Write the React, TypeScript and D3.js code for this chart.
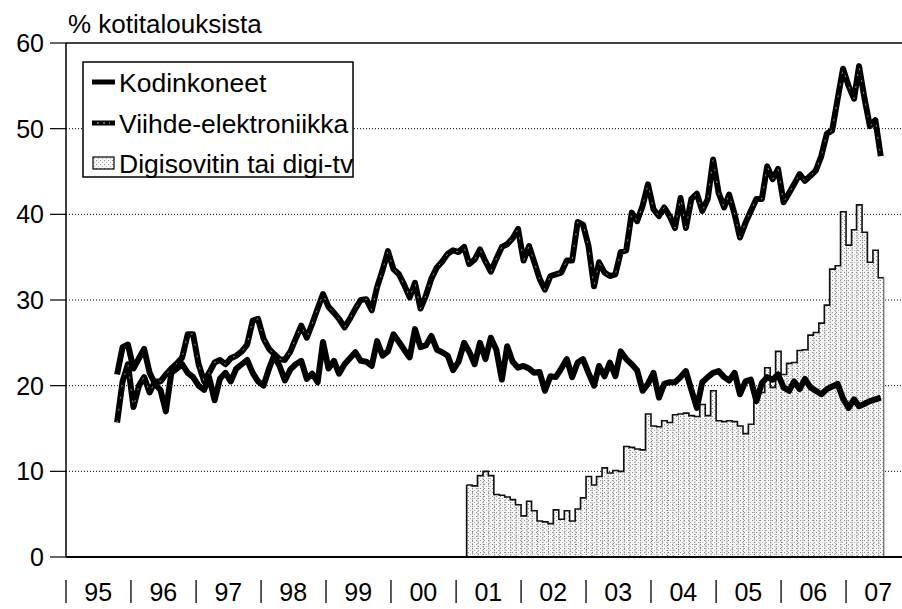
import React, { useEffect, useRef } from 'react';
import * as d3 from 'd3';

// kuukausisarjat alkavat lokakuusta 1995, digisovitin maaliskuusta 2001
const lineStart = new Date(1995, 9, 1);
const digiStart = new Date(2001, 2, 1);

const viihde: number[] = [
  15.7, 20.5, 22.5,
  17.5, 20.0, 21.0, 19.2, 20.5, 20.5, 21.3, 22.0, 22.6, 23.3, 26.0, 26.0,
  22.5, 20.5, 21.5, 22.7, 23.0, 22.5, 23.2, 23.5, 24.0, 24.8, 27.6, 27.8,
  25.5, 24.3, 23.7, 23.1, 23.0, 24.0, 25.5, 27.0, 25.6, 27.2, 29.0, 30.7,
  29.2, 28.5, 27.8, 26.8, 27.8, 29.0, 30.0, 30.1, 28.8, 31.5, 33.5, 35.7,
  33.6, 33.0, 31.8, 30.3, 32.0, 29.0, 30.5, 32.5, 33.8, 34.5, 35.4, 35.8,
  35.6, 36.2, 34.2, 34.7, 35.9, 34.5, 33.3, 34.8, 36.2, 36.5, 37.2, 38.3,
  34.6, 36.3, 34.5, 32.5, 31.2, 32.8, 33.0, 33.2, 34.6, 34.6, 39.1, 38.8,
  36.3, 31.6, 34.4, 33.2, 32.8, 33.0, 35.6, 35.8, 40.2, 39.2, 41.0, 43.5,
  40.6, 39.8, 40.8, 39.8, 38.4, 41.9, 38.4, 41.8, 42.4, 40.4, 41.8, 46.4,
  42.5, 40.8, 42.3, 40.0, 37.3, 39.0, 40.4, 41.8, 41.8, 45.6, 44.1, 45.3,
  41.4, 42.5, 43.5, 44.7, 43.9, 44.5, 45.1, 46.8, 49.4, 49.8, 53.5, 57.0,
  55.0, 53.5, 57.3, 53.5, 50.3, 51.0, 46.8,
];

const kodinkoneet: number[] = [
  21.3, 24.5, 24.8,
  22.0, 23.2, 24.3, 21.5, 20.2, 19.5, 17.0, 21.5, 22.0, 22.5, 21.5, 21.0,
  20.0, 19.5, 21.0, 18.3, 20.8, 21.5, 20.5, 22.0, 22.5, 23.0, 21.5, 20.5,
  20.0, 22.0, 23.5, 22.3, 20.6, 21.9, 22.5, 22.9, 20.8, 21.4, 20.4, 25.1,
  22.0, 22.9, 21.4, 22.5, 23.2, 23.9, 22.9, 22.8, 22.3, 25.2, 23.5, 24.0,
  26.0, 25.1, 24.2, 23.3, 26.6, 24.5, 24.7, 25.8, 24.2, 23.9, 23.5, 21.8,
  22.8, 25.0, 24.0, 22.5, 25.0, 23.1, 25.6, 24.2, 20.7, 24.6, 22.8, 22.1,
  22.3, 22.0, 21.5, 21.6, 19.4, 21.1, 21.0, 22.0, 23.1, 21.0, 22.7, 23.1,
  21.5, 20.0, 22.3, 21.1, 22.7, 21.1, 24.0, 23.1, 22.5, 21.8, 19.4, 20.2,
  21.5, 18.6, 20.2, 20.4, 20.4, 21.0, 21.7, 19.5, 17.4, 20.4, 21.0, 21.5,
  21.7, 21.0, 20.6, 21.5, 19.0, 20.5, 20.7, 18.2, 20.3, 21.0, 20.7, 21.3,
  19.8, 19.4, 20.5, 19.6, 20.8, 19.8, 19.4, 19.0, 19.6, 19.9, 20.2, 18.5,
  17.4, 18.4, 17.6, 17.9, 18.2, 18.4, 18.6,
];

const digi: number[] = [
  8.4, 8.3, 9.5, 10.0, 9.5, 7.3, 7.2, 7.0, 6.7, 6.1,
  4.8, 6.5, 5.4, 4.2, 4.1, 3.9, 5.5, 4.4, 5.4, 4.2, 5.6, 6.9,
  9.4, 8.4, 9.4, 10.4, 9.8, 10.1, 10.0, 12.9, 12.8, 12.6, 12.5, 16.7,
  15.3, 15.2, 15.9, 15.7, 16.6, 16.7, 16.8, 16.5, 16.4, 17.8, 16.5, 19.4,
  15.9, 15.8, 15.9, 15.8, 15.3, 14.4, 15.5, 18.4, 19.2, 22.1, 19.8, 24.0,
  21.3, 22.6, 22.7, 24.1, 24.2, 25.9, 26.2, 27.3, 29.4, 33.6, 34.0, 40.3,
  36.4, 38.2, 41.1, 37.9, 34.4, 35.8, 32.6,
];

const yearLabels = ['95', '96', '97', '98', '99', '00', '01', '02', '03', '04', '05', '06', '07'];
const yTicks = [0, 10, 20, 30, 40, 50, 60];

const legendItems = ['Kodinkoneet', 'Viihde-elektroniikka', 'Digisovitin tai digi-tv'];

const FONT = '"Liberation Sans", Arial, Helvetica, sans-serif';

const App: React.FC = () => {
  const svgRef = useRef<SVGSVGElement | null>(null);

  useEffect(() => {
    const svg = d3.select(svgRef.current);
    svg.selectAll('*').remove();

    const W = 902;
    const H = 609;
    const left = 66;
    const top = 43;
    const bottom = 557;

    const x = d3
      .scaleTime()
      .domain([new Date(1995, 0, 1), new Date(2008, 0, 1)])
      .range([left, left + 65 * 13]);

    const y = d3.scaleLinear().domain([0, 60]).range([bottom, top]);

    const monthAt = (start: Date, i: number) => d3.timeMonth.offset(start, i);
    const mid = (d: Date) => new Date(d.getFullYear(), d.getMonth(), 15);

    const vData = viihde.map((v, i) => ({ date: mid(monthAt(lineStart, i)), v }));
    const kData = kodinkoneet.map((v, i) => ({ date: mid(monthAt(lineStart, i)), v }));
    const dData = digi.map((v, i) => ({ date: monthAt(digiStart, i), v }));

    svg.attr('width', W).attr('height', H).attr('viewBox', `0 0 ${W} ${H}`);
    svg.append('rect').attr('width', W).attr('height', H).attr('fill', '#fff');

    // stipple pattern for digi bars
    const defs = svg.append('defs');
    const pat = defs
      .append('pattern')
      .attr('id', 'stipple')
      .attr('width', 4)
      .attr('height', 4)
      .attr('patternUnits', 'userSpaceOnUse');
    pat.append('rect').attr('width', 4).attr('height', 4).attr('fill', '#f6f6f6');
    pat.append('rect').attr('x', 0).attr('y', 0).attr('width', 1).attr('height', 1).attr('fill', '#8a8a8a');
    pat.append('rect').attr('x', 2).attr('y', 2).attr('width', 1).attr('height', 1).attr('fill', '#b0b0b0');

    // gridlines
    svg
      .append('g')
      .selectAll('line')
      .data(yTicks.filter(t => t > 0 && t < 60))
      .join('line')
      .attr('x1', left)
      .attr('x2', W)
      .attr('y1', d => y(d))
      .attr('y2', d => y(d))
      .attr('stroke', '#000')
      .attr('stroke-width', 1)
      .attr('stroke-dasharray', '1,2');

    // bars
    const bars = svg.append('g');
    bars
      .selectAll('rect')
      .data(dData)
      .join('rect')
      .attr('x', d => x(d.date))
      .attr('width', d => x(d3.timeMonth.offset(d.date, 1)) - x(d.date))
      .attr('y', d => y(d.v))
      .attr('height', d => y(0) - y(d.v))
      .attr('fill', 'url(#stipple)');

    bars
      .selectAll('line')
      .data(dData)
      .join('line')
      .attr('x1', d => x(d.date) + 0.5)
      .attr('x2', d => x(d.date) + 0.5)
      .attr('y1', d => y(d.v))
      .attr('y2', y(0))
      .attr('stroke', '#666')
      .attr('stroke-width', 1)
      .attr('stroke-dasharray', '1,1.5');

    const lastBar = dData[dData.length - 1];
    const stepPts = [...dData, { date: d3.timeMonth.offset(lastBar.date, 1), v: lastBar.v }];
    const stepLine = d3
      .line<{ date: Date; v: number }>()
      .x(d => x(d.date))
      .y(d => y(d.v))
      .curve(d3.curveStepAfter);
    bars
      .append('path')
      .datum(stepPts)
      .attr('fill', 'none')
      .attr('stroke', '#111')
      .attr('stroke-width', 1.6)
      .attr('d', stepLine);
    bars
      .append('line')
      .attr('x1', x(dData[0].date))
      .attr('x2', x(dData[0].date))
      .attr('y1', y(dData[0].v))
      .attr('y2', y(0))
      .attr('stroke', '#111')
      .attr('stroke-width', 1.6);
    bars
      .append('line')
      .attr('x1', x(stepPts[stepPts.length - 1].date))
      .attr('x2', x(stepPts[stepPts.length - 1].date))
      .attr('y1', y(lastBar.v))
      .attr('y2', y(0))
      .attr('stroke', '#444')
      .attr('stroke-width', 1);

    // lines
    const line = d3
      .line<{ date: Date; v: number }>()
      .x(d => x(d.date))
      .y(d => y(d.v));

    svg
      .append('path')
      .datum(kData)
      .attr('fill', 'none')
      .attr('stroke', '#000')
      .attr('stroke-width', 6)
      .attr('stroke-linejoin', 'round')
      .attr('d', line);

    svg
      .append('path')
      .datum(vData)
      .attr('fill', 'none')
      .attr('stroke', '#000')
      .attr('stroke-width', 6)
      .attr('stroke-linejoin', 'round')
      .attr('d', line);
    svg
      .append('path')
      .datum(vData)
      .attr('fill', 'none')
      .attr('stroke', '#fff')
      .attr('stroke-width', 0.7)
      .attr('stroke-opacity', 0.8)
      .attr('stroke-dasharray', '2,10')
      .attr('stroke-linejoin', 'round')
      .attr('d', line);

    // axes frame
    svg
      .append('line')
      .attr('x1', left)
      .attr('x2', W)
      .attr('y1', y(60))
      .attr('y2', y(60))
      .attr('stroke', '#000')
      .attr('stroke-width', 1.5);
    svg
      .append('line')
      .attr('x1', left)
      .attr('x2', W)
      .attr('y1', y(0))
      .attr('y2', y(0))
      .attr('stroke', '#000')
      .attr('stroke-width', 2);
    svg
      .append('line')
      .attr('x1', left)
      .attr('x2', left)
      .attr('y1', y(60))
      .attr('y2', y(0))
      .attr('stroke', '#000')
      .attr('stroke-width', 1.5);

    // y ticks + labels
    const yAxis = svg.append('g');
    yAxis
      .selectAll('line')
      .data(yTicks)
      .join('line')
      .attr('x1', left - 16)
      .attr('x2', left)
      .attr('y1', d => y(d))
      .attr('y2', d => y(d))
      .attr('stroke', '#000')
      .attr('stroke-width', 1.2);
    yAxis
      .selectAll('text')
      .data(yTicks)
      .join('text')
      .attr('x', 44)
      .attr('y', d => y(d))
      .attr('dy', '0.36em')
      .attr('text-anchor', 'end')
      .attr('font-family', FONT)
      .attr('font-size', 25)
      .attr('fill', '#000')
      .text(d => String(d));

    // year labels with separators
    const years = yearLabels.map((lab, i) => ({ lab, year: 1995 + i }));
    const xAxis = svg.append('g');
    xAxis
      .selectAll('line')
      .data(years)
      .join('line')
      .attr('x1', d => x(new Date(d.year, 0, 1)))
      .attr('x2', d => x(new Date(d.year, 0, 1)))
      .attr('y1', 580)
      .attr('y2', 603)
      .attr('stroke', '#000')
      .attr('stroke-width', 1.3);
    xAxis
      .selectAll('text')
      .data(years)
      .join('text')
      .attr('x', d => x(new Date(d.year, 6, 1)))
      .attr('y', 601)
      .attr('text-anchor', 'middle')
      .attr('font-family', FONT)
      .attr('font-size', 25)
      .attr('fill', '#000')
      .text(d => d.lab);

    // title
    svg
      .append('text')
      .attr('x', 68)
      .attr('y', 33)
      .attr('font-family', FONT)
      .attr('font-size', 26)
      .attr('fill', '#000')
      .text('% kotitalouksista');

    // legend
    const lg = svg.append('g');
    lg.append('rect')
      .attr('x', 83)
      .attr('y', 62)
      .attr('width', 270)
      .attr('height', 115)
      .attr('fill', '#fff')
      .attr('stroke', '#000')
      .attr('stroke-width', 1.5);
    const rowY = [82, 123, 163];
    legendItems.forEach((name, i) => {
      if (i < 2) {
        lg.append('line')
          .attr('x1', 92)
          .attr('x2', 115)
          .attr('y1', rowY[i])
          .attr('y2', rowY[i])
          .attr('stroke', '#000')
          .attr('stroke-width', 5);
        if (i === 1) {
          lg.append('line')
            .attr('x1', 97)
            .attr('x2', 110)
            .attr('y1', rowY[i])
            .attr('y2', rowY[i])
            .attr('stroke', '#fff')
            .attr('stroke-width', 0.8)
            .attr('stroke-dasharray', '2,4');
        }
      } else {
        lg.append('rect')
          .attr('x', 93)
          .attr('y', rowY[i] - 6)
          .attr('width', 21)
          .attr('height', 12)
          .attr('fill', 'url(#stipple)')
          .attr('stroke', '#000')
          .attr('stroke-width', 1.2);
      }
      lg.append('text')
        .attr('x', 119)
        .attr('y', rowY[i])
        .attr('dy', '0.36em')
        .attr('font-family', FONT)
        .attr('font-size', 26.5)
        .attr('fill', '#000')
        .text(name);
    });
  }, []);

  return <svg ref={svgRef} style={{ position: 'absolute', left: 0, top: 0 }} />;
};

export default App;
